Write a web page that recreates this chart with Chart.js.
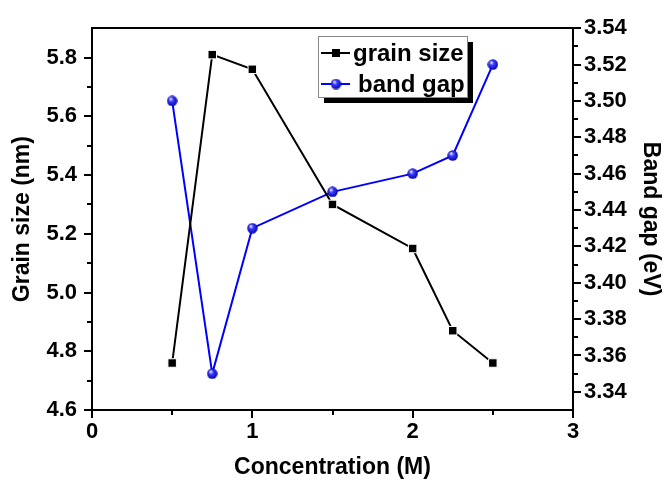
<!DOCTYPE html>
<html>
<head>
<meta charset="utf-8">
<script src="https://cdn.jsdelivr.net/npm/chart.js@4.4.1/dist/chart.umd.min.js"></script>
<style>
  body { margin: 0; background: #fff; }
  #wrap { width: 665px; height: 483px; }
</style>
</head>
<body>
<div id="wrap"><canvas id="chart" width="665" height="483"></canvas></div>
<script>
// concentration (M) and the two measured series
const concentration = [0.5, 0.75, 1, 1.5, 2, 2.25, 2.5];
const grainSize = [4.76, 5.81, 5.76, 5.30, 5.15, 4.87, 4.76];
const bandGap = [3.50, 3.35, 3.43, 3.45, 3.46, 3.47, 3.52];

// labelled ticks on each axis
const xLabels = ['0', '1', '2', '3'];
const grainLabels = ['4.6', '4.8', '5.0', '5.2', '5.4', '5.6', '5.8'];
const gapLabels = ['3.34', '3.36', '3.38', '3.40', '3.42', '3.44', '3.46', '3.48', '3.50', '3.52', '3.54'];

const FONT = '"Liberation Sans", Arial, sans-serif';

// little shaded blue ball for the band gap markers
function makeBall(size) {
    let c = document.createElement('canvas');
    c.width = size; c.height = size;
    let g = c.getContext('2d');
    let r = size / 2;
    let grad = g.createRadialGradient(r * 0.7, r * 0.6, 0.5, r, r, r);
    grad.addColorStop(0, '#e0e0ff');
    grad.addColorStop(0.35, '#3c3cff');
    grad.addColorStop(1, '#0000a8');
    g.fillStyle = grad;
    g.beginPath();
    g.arc(r, r, r - 0.3, 0, Math.PI * 2);
    g.fill();
    return c;
}
const ball = makeBall(11);

let toPoints = (ys) => concentration.map((x, i) => ({ x: x, y: ys[i] }));

// outward tick marks, long for labelled ticks and short for the others
const tickMarks = {
    id: 'tickMarks',
    afterDraw(chart) {
        const ctx = chart.ctx;
        ctx.save();
        ctx.strokeStyle = '#000';
        ctx.lineWidth = 2;
        ['x', 'y', 'y2'].forEach((id) => {
            const scale = chart.scales[id];
            scale.ticks.forEach((t, i) => {
                const major = t.label !== '';
                if (!major && (i === 0 || i === scale.ticks.length - 1)) return;
                const len = major ? 8 : 5;
                const p = Math.round(scale.getPixelForValue(t.value));
                ctx.beginPath();
                if (id === 'x') {
                    ctx.moveTo(p, scale.top); ctx.lineTo(p, scale.top + len);
                } else if (id === 'y') {
                    ctx.moveTo(scale.right, p); ctx.lineTo(scale.right - len, p);
                } else {
                    ctx.moveTo(scale.left, p); ctx.lineTo(scale.left + len, p);
                }
                ctx.stroke();
            });
        });
        ctx.restore();
    }
};

// boxed legend with a drop shadow inside the plot
const boxLegend = {
    id: 'boxLegend',
    afterDraw(chart) {
        const ctx = chart.ctx;
        const bx = 318, by = 36, bw = 149, bh = 61;
        ctx.save();
        ctx.fillStyle = '#000';
        ctx.fillRect(bx + 6, by + 6, bw, bh);
        ctx.fillStyle = '#fff';
        ctx.fillRect(bx, by, bw, bh);
        ctx.strokeStyle = '#888';
        ctx.lineWidth = 1;
        ctx.strokeRect(bx + 0.5, by + 0.5, bw, bh);

        const rows = [53, 84];
        const textX = [353, 358];
        ctx.font = 'bold 24px ' + FONT;
        ctx.textBaseline = 'middle';
        chart.data.datasets.forEach((ds, i) => {
            const y = rows[i];
            ctx.strokeStyle = ds.borderColor;
            ctx.lineWidth = 2;
            ctx.beginPath();
            ctx.moveTo(321, y); ctx.lineTo(350, y);
            ctx.stroke();
            if (ds.pointStyle === 'rect') {
                ctx.fillStyle = '#000';
                ctx.fillRect(332, y - 4, 8, 8);
            } else {
                ctx.drawImage(ball, 336 - 5.5, y - 5.5);
            }
            ctx.fillStyle = '#000';
            ctx.fillText(ds.label, textX[i], y + 1);
        });
        ctx.restore();
    }
};

let labelFrom = (list, digits) => (value) => {
    const scaled = value * Math.pow(10, digits);
    if (Math.abs(scaled - Math.round(scaled)) > 1e-6) return '';
    const s = Number(value).toFixed(digits);
    return list.includes(s) ? s : '';
};

const tickFont = { family: FONT, size: 22, weight: 'bold' };
const titleFont = { family: FONT, size: 23, weight: 'bold' };
const border = { display: true, color: '#000', width: 2 };

new Chart(document.getElementById('chart'), {
    type: 'scatter',
    data: {
        datasets: [{
            label: 'grain size',
            data: toPoints(grainSize),
            yAxisID: 'y',
            showLine: true,
            borderColor: '#000',
            borderWidth: 2,
            pointStyle: 'rect',
            pointRadius: 6,
            pointBackgroundColor: '#000',
            pointBorderColor: '#fff',
            pointBorderWidth: 1
        }, {
            label: 'band gap',
            data: toPoints(bandGap),
            yAxisID: 'y2',
            showLine: true,
            borderColor: '#0000ff',
            borderWidth: 2,
            pointStyle: ball,
            pointRadius: 5
        }]
    },
    options: {
        responsive: false,
        animation: false,
        layout: { padding: 0 },
        plugins: { legend: { display: false }, tooltip: { enabled: false } },
        scales: {
            x: {
                type: 'linear', position: 'bottom', min: 0, max: 3,
                afterFit: (s) => { s.height = 73; },
                grid: { display: false, drawTicks: false },
                border: border,
                ticks: {
                    stepSize: 0.5, autoSkip: false, maxRotation: 0, padding: 9,
                    color: '#000', font: tickFont,
                    callback: labelFrom(xLabels, 0)
                },
                title: { display: true, text: 'Concentration (M)', color: '#000', font: titleFont, padding: { bottom: 2 } }
            },
            xTop: {
                type: 'linear', position: 'top', min: 0, max: 3,
                afterFit: (s) => { s.height = 16; },
                grid: { display: false, drawTicks: false },
                border: border,
                ticks: { display: false }
            },
            y: {
                type: 'linear', position: 'left', min: 4.6, max: 5.9,
                afterFit: (s) => { s.width = 92; },
                grid: { display: false, drawTicks: false },
                border: border,
                ticks: {
                    stepSize: 0.1, autoSkip: false, padding: 15,
                    color: '#000', font: tickFont,
                    callback: labelFrom(grainLabels, 1)
                },
                title: { display: true, text: 'Grain size (nm)', color: '#000', font: titleFont, padding: { top: 9 } }
            },
            y2: {
                type: 'linear', position: 'right', min: 3.33, max: 3.54,
                afterFit: (s) => { s.width = 92; },
                grid: { display: false, drawTicks: false },
                border: border,
                ticks: {
                    stepSize: 0.01, autoSkip: false, padding: 11,
                    color: '#000', font: tickFont,
                    callback: labelFrom(gapLabels, 2)
                },
                title: { display: true, text: 'Band gap (eV)', color: '#000', font: titleFont, padding: { top: 1 } }
            }
        }
    },
    plugins: [tickMarks, boxLegend]
});
</script>
</body>
</html>
